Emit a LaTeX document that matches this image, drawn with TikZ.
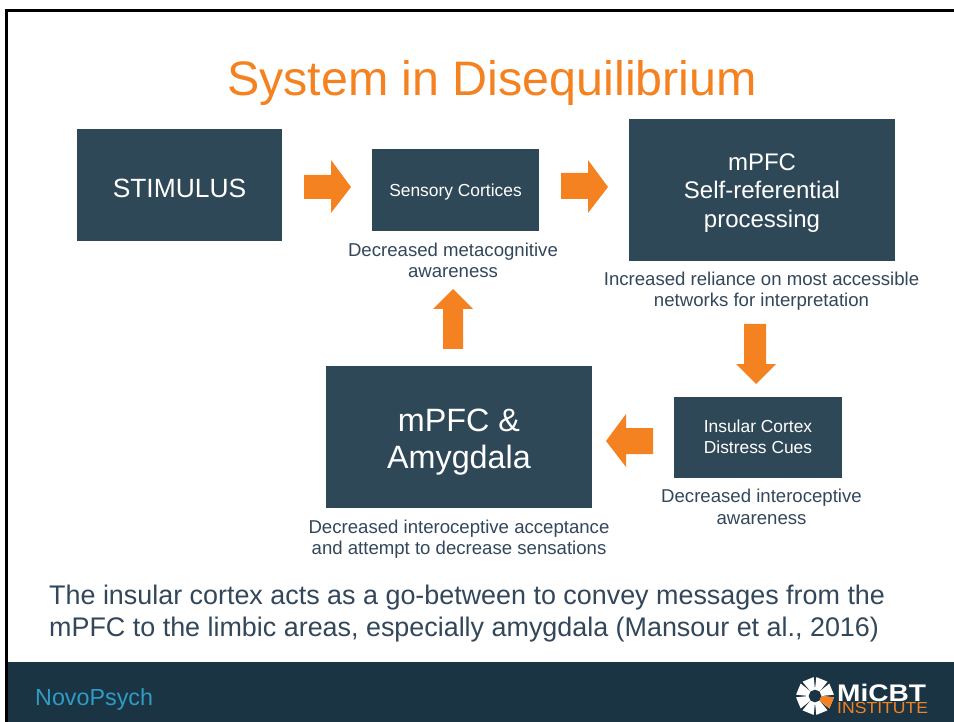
\documentclass[tikz,border=0pt]{standalone}
\usepackage{fontspec}
\setmainfont{Liberation Sans}
\definecolor{boxc}{HTML}{2F4858}
\definecolor{foot}{HTML}{1B3443}
\definecolor{orng}{HTML}{F58220}
\definecolor{txt}{HTML}{33475B}
\definecolor{nov}{HTML}{2E9CC4}
\newcommand{\fs}[1]{\fontsize{#1}{#1}\selectfont}
\tikzset{x=1pt,y=-1pt,
 dbox/.style={fill=boxc,draw=none,text=white,align=center,inner sep=0pt,anchor=center},
 capt/.style={text=txt,align=center,inner sep=0pt,font=\fs{18.6}},
 arr/.style={fill=orng,draw=none}}
\begin{document}
\begin{tikzpicture}
\useasboundingbox (0,0) rectangle (954,722);
\fill[white] (0,0) rectangle (954,722);
\fill[foot] (6,662) rectangle (954,722);
\draw[black,line width=2.5pt] (6.5,722) -- (6.5,10.5) -- (954,10.5);
\node[text=orng,font=\fs{48.4},inner sep=0pt] (title) at (492,83) {System in Disequilibrium};
\node[fill=boxc,inner sep=0pt,minimum width=205,minimum height=112] (stim) at (179.5,185) {};
\node[text=white,font=\fs{26.4},inner sep=0pt] (stimt) at (179.5,188) {STIMULUS};
\node[fill=boxc,inner sep=0pt,minimum width=167,minimum height=82] (sens) at (455.5,190.5) {};
\node[text=white,font=\fs{17.4},inner sep=0pt] (senst) at (455.5,192) {Sensory Cortices};
\node[fill=boxc,inner sep=0pt,minimum width=266,minimum height=142] (mpfc) at (762,190) {};
\node[text=white,align=center,font=\fs{24},inner sep=0pt] (mpfct) at (762,193) {mPFC\\[4.5pt]Self-referential\\[4.5pt]processing};
\node[fill=boxc,inner sep=0pt,minimum width=266,minimum height=142] (amy) at (459,437) {};
\node[text=white,align=center,font=\fs{32.3},inner sep=0pt] (amyt) at (459,442) {mPFC \&\\[5pt]Amygdala};
\node[dbox,minimum width=168,minimum height=81,font=\fs{17.4}] (ins) at (758,437) {Insular Cortex\\[3.5pt]Distress Cues};
\node[capt] (c1) at (453,260.5) {Decreased metacognitive\\[3pt]awareness};
\node[capt] (c2) at (761.5,291) {Increased reliance on most accessible\\[3pt]networks for interpretation};
\node[capt] (c3) at (761.5,507) {Decreased interoceptive\\[3pt]awareness};
\node[capt] (c4) at (459,539) {Decreased interoceptive acceptance\\[3pt]and attempt to decrease sensations};
\node[text=txt,align=left,anchor=west,inner sep=0pt,font=\fs{26.9}] (body) at (49,613.5) {The insular cortex acts as a go-between to convey messages from the\\[6pt]mPFC to the limbic areas, especially amygdala (Mansour et al., 2016)};
\node[text=nov,anchor=west,inner sep=0pt,font=\fs{23.3}] (nv) at (35,699) {NovoPsych};
% arrows
\fill[arr] (304,175) -- (331,175) -- (331,160) -- (351,187) -- (331,213) -- (331,199) -- (304,199) -- cycle;
\fill[arr] (561,173) -- (588,173) -- (588,160) -- (608,187) -- (588,213) -- (588,199) -- (561,199) -- cycle;
\fill[arr] (744,324) -- (766,324) -- (766,364) -- (776,364) -- (756,384) -- (736,364) -- (744,364) -- cycle;
\fill[arr] (653,428) -- (653,454) -- (626,454) -- (626,467) -- (606,441) -- (626,414) -- (626,428) -- cycle;
\fill[arr] (443,349) -- (463,349) -- (463,309) -- (473,309) -- (453,289) -- (433,309) -- (443,309) -- cycle;
% logo
\begin{scope}[shift={(815,696)}]
\foreach \a in {0,45,90,135,180,225,270,315}{
 \fill[white,rotate=\a+22.5] (6,-2.5) -- (18,-6) -- (18,6) -- (6,2.5) -- cycle;}
\fill[orng,rotate=-22.5] (6,-2.5) -- (18,-6) -- (18,6) -- (6,2.5) -- cycle;
\end{scope}
\node[text=white,anchor=west,inner sep=0pt,font=\fs{24}\bfseries,xscale=1.17] (m) at (837,693) {MiCBT};
\node[text=orng,anchor=west,inner sep=0pt,font=\fs{16},xscale=1.1] (i) at (837,708) {INSTITUTE};
\end{tikzpicture}
\end{document}
